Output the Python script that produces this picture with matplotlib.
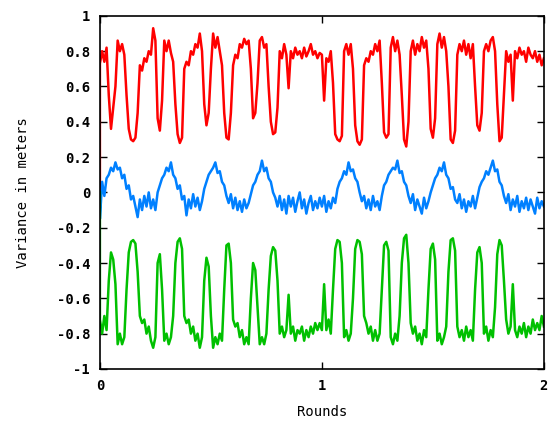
import numpy as np
import matplotlib
matplotlib.use("Agg")
import matplotlib.pyplot as plt

# values, one sample every 0.01 rounds (plus start at 0)
rounds = np.concatenate([[0.0], np.linspace(0, 2, 201)])

red = [0.0,
    0.73, 0.80, 0.74, 0.82, 0.55, 0.36, 0.48, 0.60, 0.86, 0.80,
    0.84, 0.78, 0.55, 0.36, 0.30, 0.29, 0.31, 0.45, 0.72, 0.69,
    0.76, 0.74, 0.80, 0.78, 0.93, 0.86, 0.42, 0.35, 0.52, 0.86,
    0.80, 0.86, 0.79, 0.74, 0.50, 0.33, 0.28, 0.31, 0.70, 0.74,
    0.72, 0.80, 0.78, 0.84, 0.82, 0.90, 0.80, 0.50, 0.38, 0.45,
    0.70, 0.90, 0.82, 0.88, 0.80, 0.72, 0.45, 0.31, 0.30, 0.45,
    0.72, 0.78, 0.76, 0.84, 0.82, 0.87, 0.84, 0.86, 0.70, 0.42,
    0.45, 0.62, 0.86, 0.88, 0.82, 0.84, 0.60, 0.40, 0.33, 0.34,
    0.48, 0.80, 0.76, 0.84, 0.78, 0.59, 0.80, 0.76, 0.82, 0.78,
    0.80, 0.76, 0.82, 0.77, 0.80, 0.84, 0.78, 0.80, 0.76, 0.79,
    0.78, 0.52, 0.76, 0.74, 0.80, 0.62, 0.33, 0.30, 0.29, 0.32,
    0.80, 0.84, 0.78, 0.84, 0.70, 0.38, 0.29, 0.27, 0.30, 0.72,
    0.76, 0.74, 0.80, 0.78, 0.84, 0.80, 0.86, 0.62, 0.34, 0.31,
    0.33, 0.82, 0.88, 0.80, 0.86, 0.78, 0.55, 0.30, 0.26, 0.40,
    0.80, 0.86, 0.78, 0.84, 0.80, 0.88, 0.82, 0.86, 0.70, 0.36,
    0.31, 0.42, 0.84, 0.90, 0.82, 0.88, 0.80, 0.60, 0.30, 0.28,
    0.35, 0.78, 0.84, 0.80, 0.86, 0.78, 0.84, 0.76, 0.84, 0.60,
    0.38, 0.35, 0.45, 0.80, 0.84, 0.80, 0.86, 0.88, 0.80, 0.50,
    0.29, 0.31, 0.55, 0.80, 0.74, 0.78, 0.52, 0.80, 0.76, 0.82,
    0.78, 0.80, 0.74, 0.82, 0.78, 0.76, 0.80, 0.74, 0.78, 0.72,
    0.76]

blue = [0.0,
    -0.15, 0.06, -0.02, 0.08, 0.10, 0.14, 0.12, 0.17, 0.13, 0.14,
    0.08, 0.10, 0.02, 0.04, -0.04, -0.02, -0.08, -0.14, -0.04, -0.10,
    -0.02, -0.08, 0.00, -0.09, -0.04, -0.10, 0.00, 0.04, 0.08, 0.10,
    0.14, 0.12, 0.17, 0.10, 0.08, 0.02, 0.04, -0.04, -0.02, -0.13,
    -0.04, -0.09, -0.01, -0.08, -0.03, -0.10, -0.05, 0.02, 0.06, 0.10,
    0.12, 0.14, 0.17, 0.11, 0.12, 0.06, 0.04, -0.02, -0.06, -0.01,
    -0.09, -0.03, -0.10, -0.05, -0.11, -0.04, -0.09, -0.06, -0.01, 0.04,
    0.06, 0.10, 0.12, 0.18, 0.12, 0.14, 0.08, 0.06, 0.00, -0.03,
    -0.08, -0.02, -0.10, -0.04, -0.12, -0.02, -0.08, -0.03, -0.11, -0.05,
    0.00, -0.09, -0.04, -0.12, -0.06, -0.02, -0.10, -0.05, -0.09, -0.03,
    -0.08, -0.02, -0.11, -0.05, -0.09, -0.03, -0.06, 0.02, 0.06, 0.08,
    0.12, 0.10, 0.17, 0.12, 0.13, 0.08, 0.06, 0.00, -0.05, -0.02,
    -0.09, -0.04, -0.10, -0.02, -0.08, -0.05, -0.10, -0.02, 0.04, 0.06,
    0.10, 0.12, 0.14, 0.13, 0.18, 0.11, 0.12, 0.06, 0.04, -0.02,
    -0.06, -0.01, -0.10, -0.04, -0.08, -0.12, -0.03, -0.09, -0.05, 0.00,
    0.04, 0.08, 0.10, 0.14, 0.12, 0.17, 0.10, 0.08, 0.02, 0.03,
    -0.04, -0.06, -0.01, -0.09, -0.04, -0.11, -0.05, -0.08, -0.02, -0.09,
    -0.03, 0.03, 0.06, 0.08, 0.12, 0.10, 0.14, 0.18, 0.12, 0.13,
    0.06, 0.04, -0.02, -0.06, -0.01, -0.10, -0.04, -0.08, -0.02, -0.11,
    -0.05, -0.09, -0.03, -0.10, -0.04, -0.08, -0.12, -0.03, -0.09, -0.05,
    -0.08]

green = [0.0,
    -0.72, -0.80, -0.70, -0.78, -0.50, -0.34, -0.38, -0.52, -0.86, -0.80,
    -0.86, -0.82, -0.55, -0.34, -0.28, -0.27, -0.29, -0.45, -0.70, -0.74,
    -0.72, -0.80, -0.76, -0.84, -0.88, -0.82, -0.40, -0.35, -0.55, -0.84,
    -0.80, -0.86, -0.82, -0.70, -0.40, -0.28, -0.26, -0.32, -0.70, -0.74,
    -0.72, -0.80, -0.76, -0.84, -0.80, -0.88, -0.82, -0.50, -0.37, -0.42,
    -0.70, -0.88, -0.82, -0.86, -0.80, -0.84, -0.55, -0.30, -0.29, -0.40,
    -0.72, -0.76, -0.74, -0.82, -0.78, -0.86, -0.82, -0.86, -0.60, -0.40,
    -0.44, -0.65, -0.86, -0.82, -0.86, -0.80, -0.55, -0.36, -0.31, -0.33,
    -0.50, -0.80, -0.76, -0.82, -0.78, -0.58, -0.80, -0.76, -0.84, -0.78,
    -0.80, -0.76, -0.84, -0.78, -0.82, -0.76, -0.80, -0.74, -0.78, -0.74,
    -0.78, -0.52, -0.78, -0.72, -0.80, -0.55, -0.32, -0.27, -0.28, -0.40,
    -0.82, -0.78, -0.84, -0.80, -0.60, -0.32, -0.27, -0.28, -0.35, -0.70,
    -0.74, -0.80, -0.76, -0.84, -0.78, -0.84, -0.80, -0.55, -0.30, -0.28,
    -0.33, -0.82, -0.86, -0.80, -0.84, -0.70, -0.40, -0.26, -0.24, -0.40,
    -0.74, -0.80, -0.76, -0.84, -0.80, -0.86, -0.78, -0.82, -0.55, -0.32,
    -0.29, -0.38, -0.84, -0.80, -0.86, -0.82, -0.76, -0.45, -0.27, -0.26,
    -0.33, -0.76, -0.82, -0.78, -0.84, -0.76, -0.82, -0.78, -0.84, -0.55,
    -0.34, -0.31, -0.40, -0.80, -0.76, -0.84, -0.78, -0.82, -0.65, -0.35,
    -0.27, -0.30, -0.50, -0.72, -0.80, -0.76, -0.52, -0.78, -0.82, -0.76,
    -0.80, -0.74, -0.82, -0.76, -0.80, -0.72, -0.78, -0.74, -0.78, -0.70,
    -0.76]

yticks = [-1, -0.8, -0.6, -0.4, -0.2, 0, 0.2, 0.4, 0.6, 0.8, 1]
yticklabels = ["-1", "-0.8", "-0.6", "-0.4", "-0.2", "0", "0.2", "0.4", "0.6", "0.8", "1"]
xticks = [0, 1, 2]

plt.rcParams['font.family'] = ['DejaVu Sans Mono']
plt.rcParams['font.weight'] = 'bold'

fig = plt.figure(figsize=(5.55, 4.29), dpi=100)
ax = fig.add_axes([0.180, 0.140, 0.800, 0.823])

ax.plot(rounds, red, color='#ff0000', lw=1.8)
ax.plot(rounds, blue, color='#0080ff', lw=1.8)
ax.plot(rounds, green, color='#00c000', lw=1.8)

ax.set_xlim(0, 2)
ax.set_ylim(-1, 1)
ax.set_xticks(xticks)
ax.set_xticklabels([str(t) for t in xticks])
ax.set_yticks(yticks)
ax.set_yticklabels(yticklabels)
ax.tick_params(direction='in', length=5, width=1, top=True, right=True,
               labelsize=10, pad=7)
for s in ax.spines.values():
    s.set_linewidth(1.2)

ax.set_xlabel("Rounds", fontsize=10, labelpad=9)
ax.set_ylabel("Variance in meters", fontsize=10, labelpad=19)

fig.savefig("out.png", dpi=100)
